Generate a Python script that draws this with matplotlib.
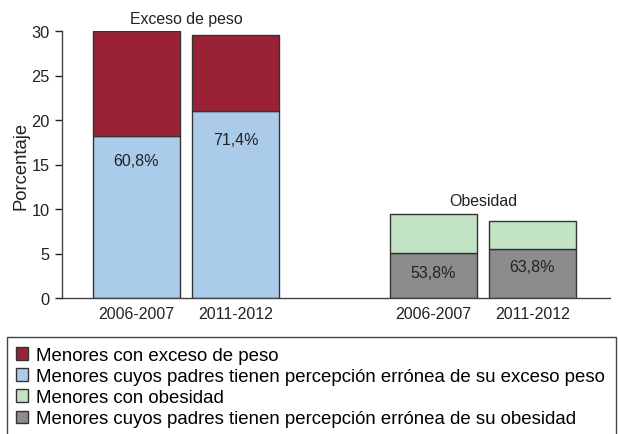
import matplotlib
matplotlib.use("Agg")
import matplotlib.pyplot as plt
from matplotlib.patches import Rectangle, Patch

plt.rcParams['font.family'] = ['Liberation Sans', 'DejaVu Sans']

periods = ["2006-2007", "2011-2012", "2006-2007", "2011-2012"]
groups = ["Exceso de peso", "Obesidad"]
total = [30.0, 29.5, 9.4, 8.7]           # % menores con exceso de peso / obesidad
misperc = [18.24, 21.06, 5.06, 5.55]     # parte con percepción errónea
misperc_pct = ["60,8%", "71,4%", "53,8%", "63,8%"]
legend_labels = [
    "Menores con exceso de peso",
    "Menores cuyos padres tienen percepción errónea de su exceso peso",
    "Menores con obesidad",
    "Menores cuyos padres tienen percepción errónea de su obesidad",
]

positions = [0, 1, 3, 4]
top_colors = ["#9a2237", "#9a2237", "#c3e3c5", "#c3e3c5"]
bot_colors = ["#abcbea", "#abcbea", "#8c8c8c", "#8c8c8c"]
edge = "#333333"
txt = "#222222"

W, H = 618, 435
fig = plt.figure(figsize=(W / 100, H / 100), dpi=100)
ax_left = 62
ax = fig.add_axes([ax_left / W, 1 - 299 / H, (610 - ax_left) / W, (299 - 32) / H])

width = 0.88
rest = [t - m for t, m in zip(total, misperc)]
ax.bar(positions, misperc, width=width, color=bot_colors, edgecolor=edge, linewidth=1.0)
ax.bar(positions, rest, bottom=misperc, width=width, color=top_colors, edgecolor=edge, linewidth=1.0)

offsets = [-25, -29, -20, -18]
for x, m, lab, off in zip(positions, misperc, misperc_pct, offsets):
    ax.annotate(lab, (x, m), xytext=(0, off), textcoords="offset pixels",
                ha="center", va="center", fontsize=11.5, color=txt)

ax.annotate(groups[0], (0.5, max(total[0], total[1])), xytext=(0, 8), textcoords="offset pixels",
            ha="center", va="baseline", fontsize=11.4, color=txt, annotation_clip=False)
ax.annotate(groups[1], (3.5, max(total[2], total[3])), xytext=(0, 9), textcoords="offset pixels",
            ha="center", va="baseline", fontsize=11.4, color=txt, annotation_clip=False)

ax.set_xlim((ax_left - 136.5) / 99, (610 - 136.5) / 99)
ax.set_ylim(0, 30)
ax.set_yticks([0, 5, 10, 15, 20, 25, 30])
ax.set_xticks(positions)
ax.set_xticklabels(periods)
ax.tick_params(axis="x", length=0, pad=6, labelsize=11.5, colors=txt)
ax.tick_params(axis="y", length=5, width=1, pad=4, labelsize=11.8, colors=txt)
for s in ["top", "right"]:
    ax.spines[s].set_visible(False)
for s in ["left", "bottom"]:
    ax.spines[s].set_color("#444444")
    ax.spines[s].set_linewidth(1.0)
ax.set_ylabel("Porcentaje", fontsize=13.3, color=txt, labelpad=1)
ax.set_facecolor("none")

fig.patches.append(Rectangle((7 / W, -0.05), (616 - 7) / W, (1 - 338 / H) + 0.05,
                             transform=fig.transFigure, fill=False, edgecolor="#444444",
                             linewidth=1.0, clip_on=False))

handles = [Patch(facecolor=c, edgecolor=edge, linewidth=1.0)
           for c in ["#9a2237", "#abcbea", "#c3e3c5", "#8c8c8c"]]
fig.legend(handles, legend_labels, loc="upper left", bbox_to_anchor=(16 / W, 1 - 348 / H),
           frameon=False, fontsize=13.45, handlelength=0.65, handleheight=0.65,
           handletextpad=0.43, labelspacing=0.22, borderpad=0, borderaxespad=0)

fig.savefig("out.png", dpi=100)
